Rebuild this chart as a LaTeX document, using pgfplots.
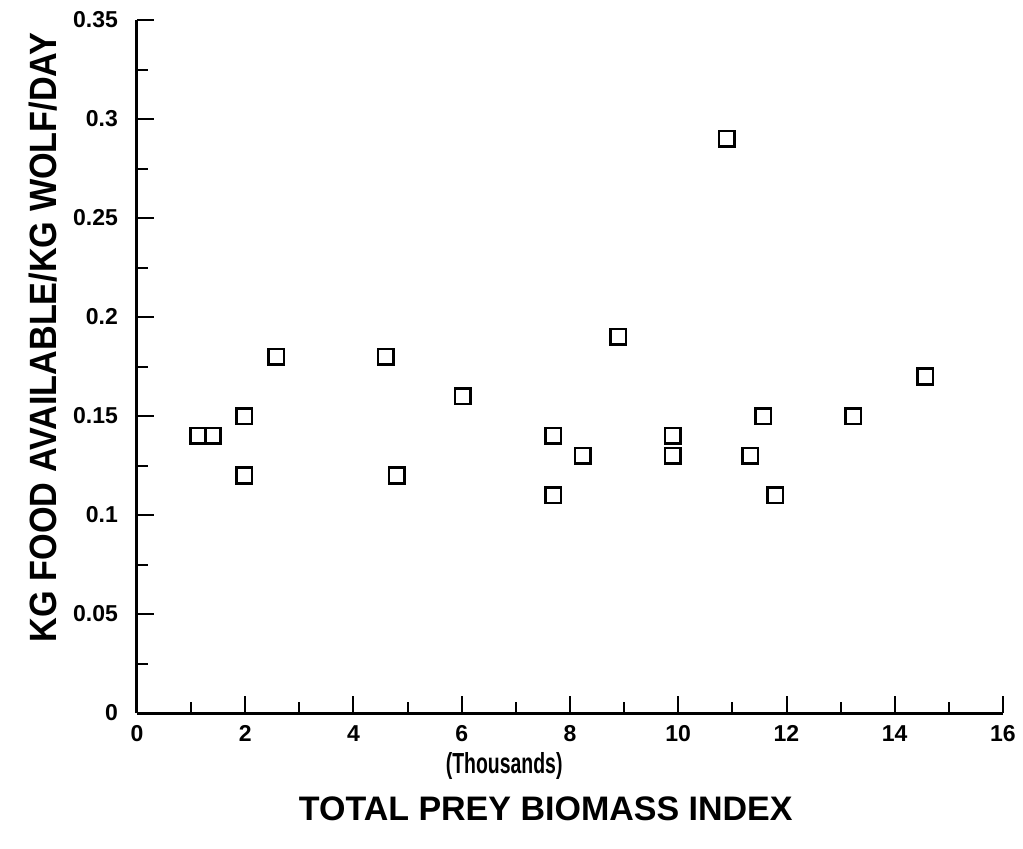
\documentclass[border=0pt]{standalone}
\usepackage{fontspec}
\setmainfont{Liberation Sans}
\usepackage{pgfplots}
\pgfplotsset{compat=1.18}

% prey biomass (thousands) vs kg food / kg wolf / day
\pgfplotstableread{
x      y
1.13   0.14
1.40   0.14
1.98   0.15
1.98   0.12
2.57   0.18
4.60   0.18
4.80   0.12
6.02   0.16
7.69   0.14
7.69   0.11
8.24   0.13
8.89   0.19
9.90   0.14
9.90   0.13
10.90  0.29
11.33  0.13
11.57  0.15
11.79  0.11
13.23  0.15
14.56  0.17
}\wolfdata

\begin{document}
\begin{tikzpicture}
\begin{axis}[
  at={(0,0)}, anchor=south west,
  scale only axis, width=433pt, height=346.5pt,
  xmin=0, xmax=16, ymin=0, ymax=0.35,
  axis lines=left, axis line style={-, line width=1.5pt},
  tick align=inside, tick style={line width=1pt, black},
  major tick length=8.5pt, minor tick length=5.5pt,
  xtick={0,2,...,16}, minor xtick={1,3,...,15},
  ytick={0,0.05,...,0.35}, minor ytick={0.025,0.075,...,0.325},
  yticklabels={0,0.05,0.1,0.15,0.2,0.25,0.3,0.35},
  /pgf/number format/assume math mode=true,
  tick label style={font=\fontsize{11.5}{13}\selectfont\bfseries},
  xticklabel style={yshift=-2.5pt, text height=8.4pt, text depth=0pt},
  yticklabel style={xshift=-6pt},
  xlabel={TOTAL PREY BIOMASS INDEX},
  xlabel style={at={(axis description cs:0.472,-0.138)}, anchor=center,
    font=\fontsize{17}{19}\selectfont\bfseries},
  ylabel={\scalebox{0.9}[1]{KG FOOD AVAILABLE/KG WOLF/DAY}},
  ylabel style={at={(axis description cs:-0.108,0.542)}, anchor=center,
    font=\fontsize{19}{21}\selectfont\bfseries},
  clip=false,
]
\addplot[only marks, mark=square, mark size=3.9pt,
  mark options={line width=1.3pt, black}] table[x=x, y=y] {\wolfdata};
\node[font=\fontsize{14.5}{16}\selectfont\bfseries]
  at (axis description cs:0.424,-0.076) {\scalebox{0.67}[1]{(Thousands)}};
\end{axis}
\pgfresetboundingbox
\useasboundingbox (-68.5pt,-67.5pt) rectangle (443pt,356.5pt);
\end{tikzpicture}
\end{document}
